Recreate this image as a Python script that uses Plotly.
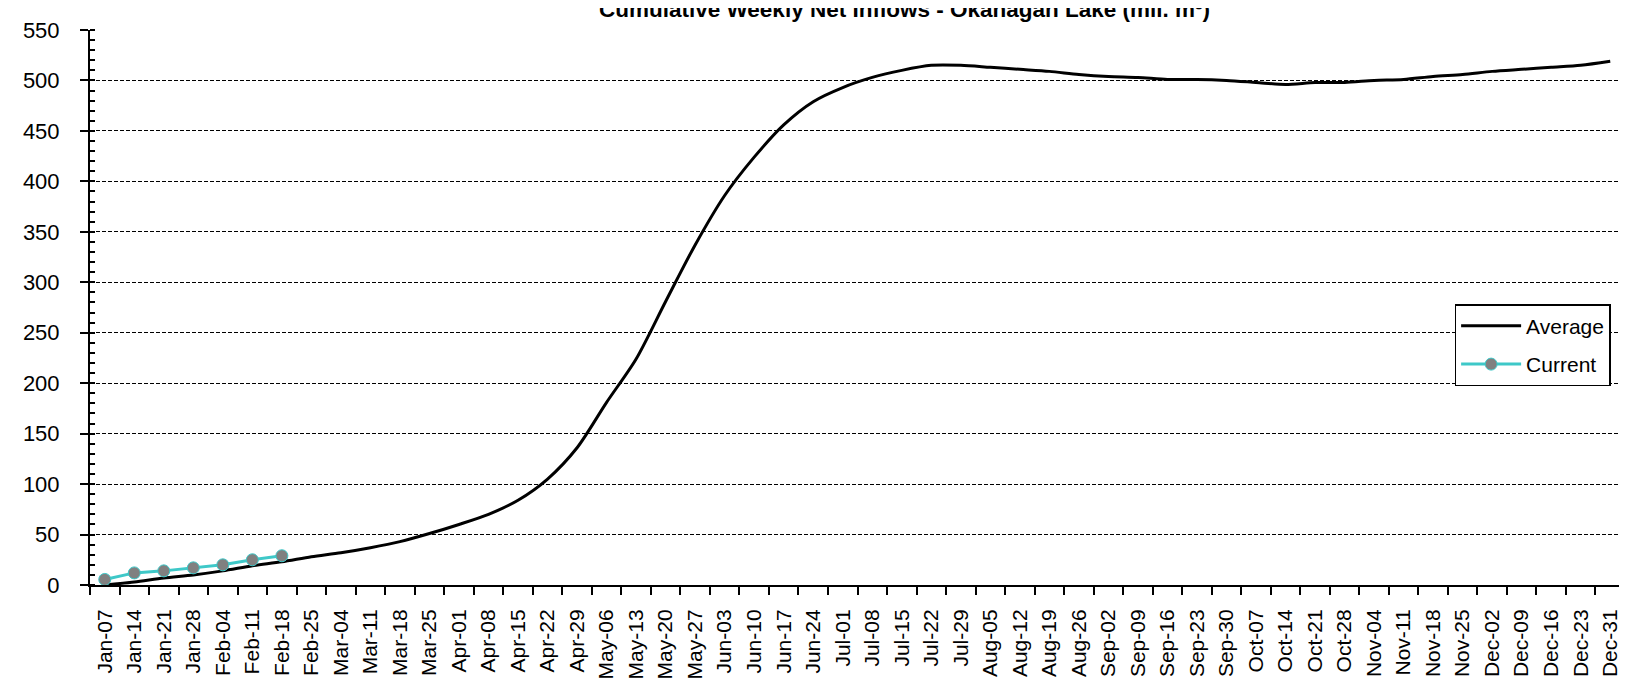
import plotly.graph_objects as go

weeks = ["Jan-07", "Jan-14", "Jan-21", "Jan-28", "Feb-04", "Feb-11", "Feb-18", "Feb-25",
         "Mar-04", "Mar-11", "Mar-18", "Mar-25", "Apr-01", "Apr-08", "Apr-15", "Apr-22",
         "Apr-29", "May-06", "May-13", "May-20", "May-27", "Jun-03", "Jun-10", "Jun-17",
         "Jun-24", "Jul-01", "Jul-08", "Jul-15", "Jul-22", "Jul-29", "Aug-05", "Aug-12",
         "Aug-19", "Aug-26", "Sep-02", "Sep-09", "Sep-16", "Sep-23", "Sep-30", "Oct-07",
         "Oct-14", "Oct-21", "Oct-28", "Nov-04", "Nov-11", "Nov-18", "Nov-25", "Dec-02",
         "Dec-09", "Dec-16", "Dec-23", "Dec-31"]

average = [0, 3, 7, 10, 14, 19, 23, 28,
           32, 37, 43, 51, 60, 70, 84, 105,
           136, 181, 224, 281, 337, 386, 424, 456,
           479, 493, 503, 510, 515, 515, 513, 511,
           509, 506, 504, 503, 501, 501, 500, 498,
           496, 498, 498, 500, 501, 504, 506, 509,
           511, 513, 515, 519]

current_weeks = weeks[:7]
current = [5.5, 12, 14, 17, 20, 25, 29]

title_text = "Cumulative Weekly Net Inflows - Okanagan Lake (mil. m³)"

FONT = "Liberation Sans, Arial, sans-serif"

fig = go.Figure()
fig.add_trace(go.Scatter(
    x=weeks, y=average, name="Average", mode="lines",
    line=dict(color="black", width=3, shape="spline", smoothing=0.8),
    legendgroup="a"))
fig.add_trace(go.Scatter(
    x=current_weeks, y=current, name="Current", mode="lines+markers",
    line=dict(color="#3EC8C8", width=3),
    marker=dict(color="#808080", size=12, line=dict(color="#3EC8C8", width=1)),
    legendgroup="b"))

fig.update_layout(
    width=1627, height=681,
    margin=dict(l=82, r=10, t=19, b=98),
    paper_bgcolor="white", plot_bgcolor="white",
    font=dict(family=FONT, size=21, color="black"),
    title=dict(text="<b>" + title_text + "</b>", x=0.551, xref="container", xanchor="center",
               y=1 - 1.5 / 681, yref="container", yanchor="middle",
               font=dict(family=FONT, size=22.5, color="black")),
    showlegend=True,
    legend=dict(x=0.889, y=0.506, xanchor="left", yanchor="top",
                bordercolor="black", borderwidth=1.5, bgcolor="white",
                font=dict(family=FONT, size=21, color="black"),
                traceorder="grouped", tracegroupgap=8, itemwidth=60),
)

fig.update_xaxes(
    type="category", categoryorder="array", categoryarray=weeks,
    range=[-0.5, 51.5], tickson="boundaries",
    ticks="outside", ticklen=8, tickwidth=2, tickcolor="black",
    showline=True, linewidth=2, linecolor="black",
    showgrid=False, zeroline=False, tickangle=-90,
    tickfont=dict(family=FONT, size=21, color="black"),
    ticklabelstandoff=14,
)
fig.update_yaxes(
    range=[0, 550], dtick=50, tick0=0,
    ticks="outside", ticklen=8, tickwidth=2, tickcolor="black",
    showline=True, linewidth=2, linecolor="black",
    showgrid=True, gridcolor="black", gridwidth=1, griddash="4px,2px",
    zeroline=False,
    minor=dict(dtick=10, ticks="inside", ticklen=5, tickwidth=2, tickcolor="black", showgrid=False),
    tickfont=dict(family=FONT, size=22, color="black"),
    ticklabelstandoff=16,
)

fig.write_html("out.html")
